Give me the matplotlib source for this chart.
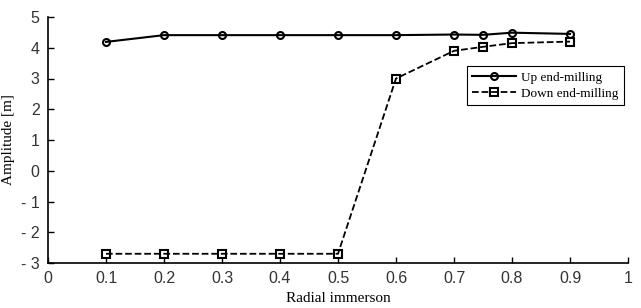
import numpy as np
import matplotlib.pyplot as plt

plt.rcParams['axes.unicode_minus'] = False

# Data
radial = [0.1, 0.2, 0.3, 0.4, 0.5, 0.6, 0.7, 0.75, 0.8, 0.9]
amp_up = [4.19, 4.41, 4.41, 4.41, 4.41, 4.41, 4.43, 4.42, 4.49, 4.45]
amp_down = [-2.7, -2.7, -2.7, -2.7, -2.7, 3.0, 3.9, 4.03, 4.15, 4.2]

xticks = [0, 0.1, 0.2, 0.3, 0.4, 0.5, 0.6, 0.7, 0.8, 0.9, 1]
xticklabels = ['0', '0.1', '0.2', '0.3', '0.4', '0.5', '0.6', '0.7', '0.8', '0.9', '1']
yticks = [-3, -2, -1, 0, 1, 2, 3, 4, 5]
yticklabels = ['- 3', '- 2', '- 1', '0', '1', '2', '3', '4', '5']

fig = plt.figure(figsize=(6.41, 3.08), dpi=100)
ax = fig.add_axes([48 / 641, 45 / 308, 580 / 641, 246 / 308])

ax.plot(radial, amp_up, color='black', linestyle='-', linewidth=1.5,
        marker='o', markersize=5, markerfacecolor='none', markeredgewidth=1.5,
        label='Up end-milling')
ax.plot(radial, amp_down, color='black', linestyle='--', linewidth=1.3,
        marker='s', markersize=6, markerfacecolor='none', markeredgewidth=1.5,
        label='Down end-milling')

ax.set_xlim(0, 1)
ax.set_ylim(-3, 5)
ax.set_xticks(xticks)
ax.set_xticklabels(xticklabels)
ax.set_yticks(yticks)
ax.set_yticklabels(yticklabels)

for side in ['top', 'right']:
    ax.spines[side].set_visible(False)
for side in ['left', 'bottom']:
    ax.spines[side].set_linewidth(1.2)

ax.tick_params(direction='in', length=4, width=1, labelsize=11.5, pad=6)
for lab in ax.get_xticklabels() + ax.get_yticklabels():
    lab.set_family('Liberation Sans')
    lab.set_color('#333333')

ax.set_xlabel('Radial immerson', family='Liberation Serif', fontsize=11, labelpad=4)
ax.set_ylabel('Amplitude [m]', family='Liberation Serif', fontsize=11, labelpad=4)

leg = ax.legend(loc='upper right', bbox_to_anchor=(0.993, 0.80), borderaxespad=0,
                prop={'family': 'Liberation Serif', 'size': 9.5},
                fancybox=False, edgecolor='black', framealpha=1,
                handlelength=3.3, handletextpad=0.4, borderpad=0.4, labelspacing=0.3)
leg.get_frame().set_linewidth(0.8)

fig.savefig('out.png', dpi=100)
